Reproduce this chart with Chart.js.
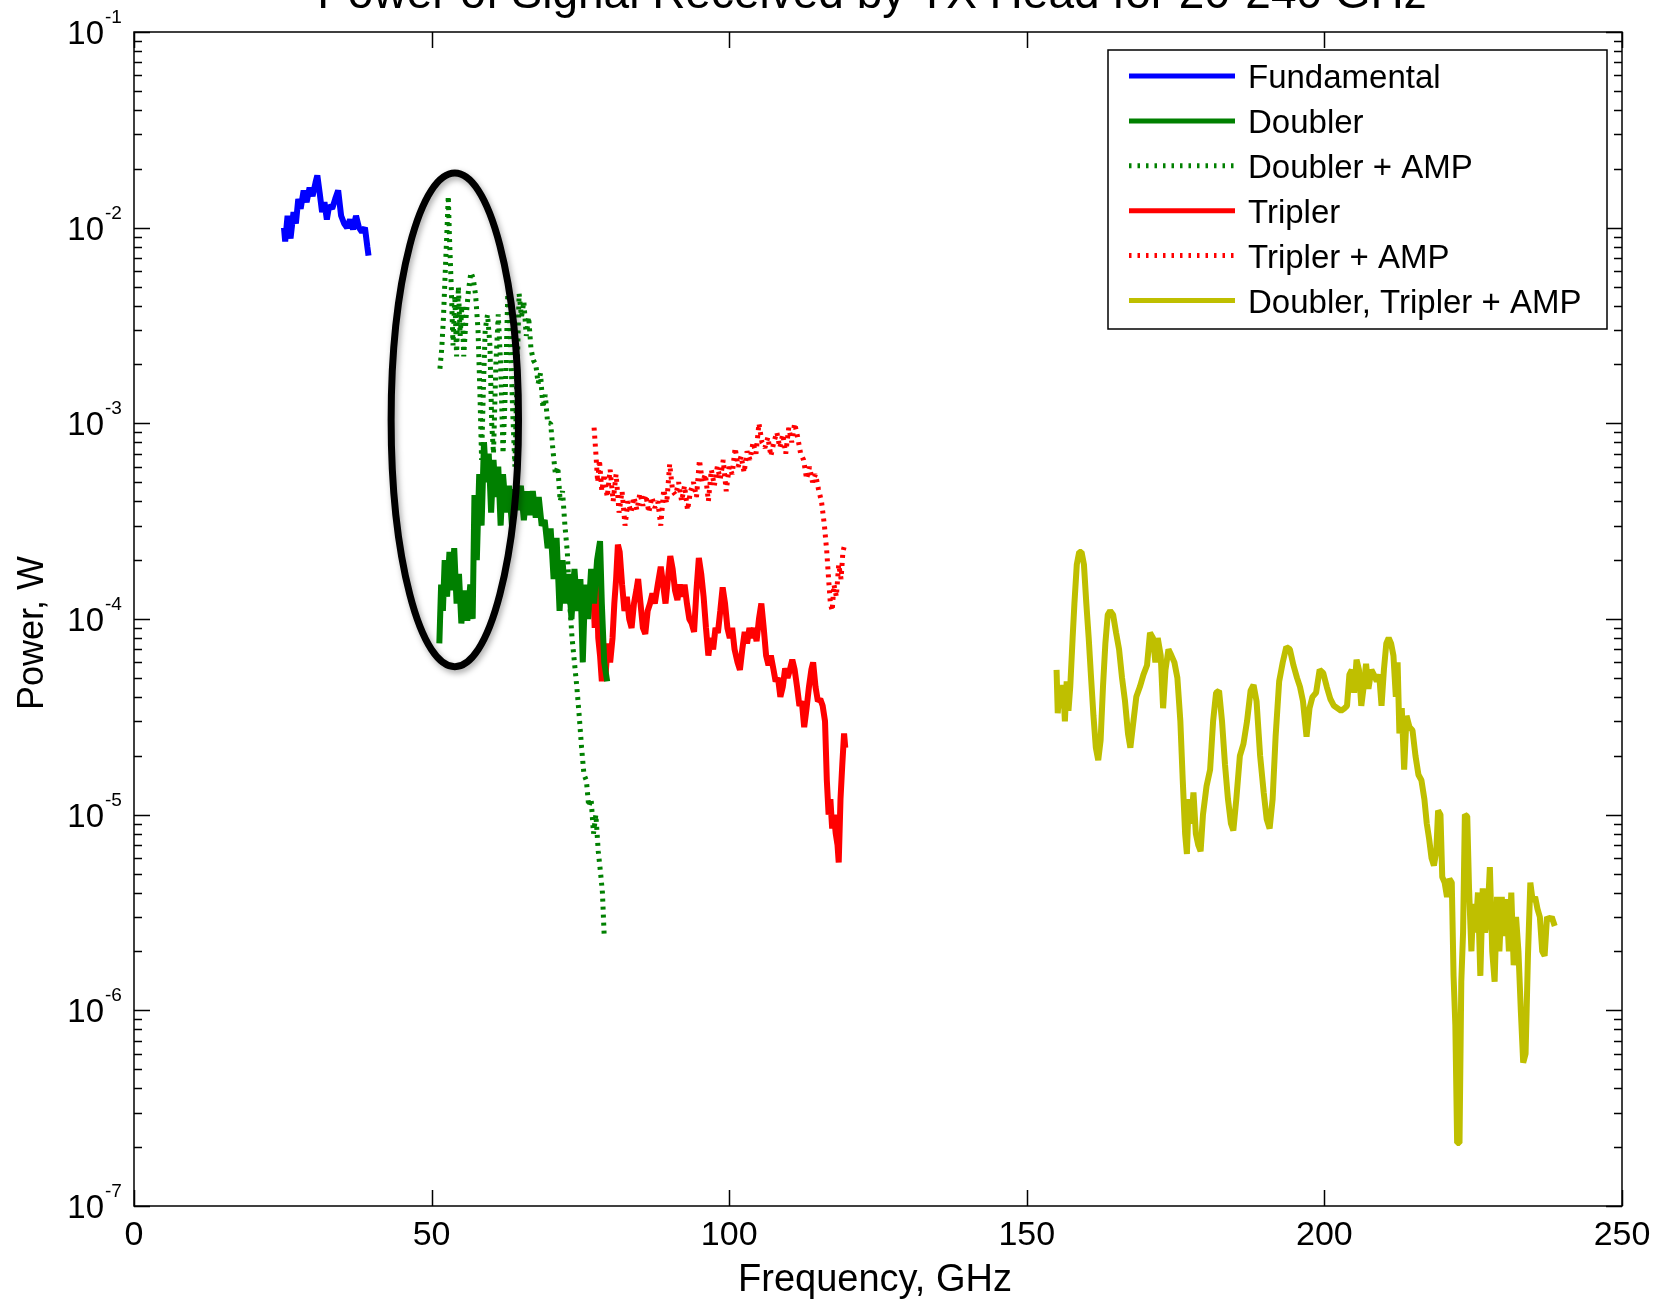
<!DOCTYPE html>
<html>
<head>
<meta charset="utf-8">
<script src="https://cdn.jsdelivr.net/npm/chart.js@4.4.1/dist/chart.umd.min.js"></script>
<style>
html,body{margin:0;padding:0;background:#fff;overflow:hidden}
canvas{display:block}
</style>
</head>
<body>
<canvas id="c" width="1671" height="1305"></canvas>
<script>
const FONT = '"Liberation Sans", Arial, sans-serif';
const chartTitle = 'Power of Signal Received by TX Head for 20-240 GHz';
const xAxisTitle = 'Frequency, GHz';
const yAxisTitle = 'Power, W';
const xTickValues = [0, 50, 100, 150, 200, 250];
const yTickExponents = [-7, -6, -5, -4, -3, -2, -1];
const seriesNames = ['Fundamental', 'Doubler', 'Doubler + AMP', 'Tripler', 'Tripler + AMP', 'Doubler, Tripler + AMP'];
const seriesColors = ['#0000ff', '#008000', '#008000', '#ff0000', '#ff0000', '#bfbf00'];
const seriesDotted = [false, false, true, false, true, false];

// [frequency GHz, power W]
const fundamental = [
[25.2,1.0e-2],[25.4,8.5e-3],[25.8,1.15e-2],[26.3,8.8e-3],[26.8,1.2e-2],[27.2,1.05e-2],[27.6,1.4e-2],[28.0,1.25e-2],
[28.5,1.55e-2],[29.0,1.35e-2],[29.5,1.6e-2],[30.0,1.45e-2],[30.5,1.7e-2],[30.8,1.85e-2],[31.2,1.5e-2],[31.6,1.2e-2],
[32.0,1.35e-2],[32.4,1.1e-2],[32.8,1.3e-2],[33.3,1.25e-2],[33.8,1.4e-2],[34.3,1.55e-2],[34.8,1.15e-2],[35.3,1.05e-2],
[35.8,1.0e-2],[36.3,1.1e-2],[36.8,9.8e-3],[37.3,1.15e-2],[37.8,1.0e-2],[38.3,9.5e-3],[38.8,1.0e-2],[39.2,8.0e-3],[39.4,7.2e-3]];

const doubler = [
[51.3,7.5e-5],[51.6,1.5e-4],[51.9,1.1e-4],[52.2,2.0e-4],[52.6,1.3e-4],[53.0,2.2e-4],[53.4,1.4e-4],[53.8,2.3e-4],
[54.2,1.2e-4],[54.6,1.7e-4],[55.0,9.5e-5],[55.5,1.4e-4],[56.0,9.8e-5],[56.5,1.5e-4],[56.9,1.0e-4],[57.2,4.3e-4],
[57.6,2.0e-4],[58.0,5.5e-4],[58.4,3.0e-4],[58.8,8.0e-4],[59.2,5.0e-4],[59.6,7.0e-4],[60.0,3.5e-4],[60.4,6.5e-4],
[60.8,4.2e-4],[61.2,6.0e-4],[61.6,3.0e-4],[62.0,5.5e-4],[62.5,3.5e-4],[63.0,4.8e-4],[63.5,3.0e-4],[64.0,4.6e-4],
[64.5,3.6e-4],[65.0,4.8e-4],[65.5,3.2e-4],[66.0,4.5e-4],[66.5,3.4e-4],[67.0,4.5e-4],[67.5,3.3e-4],[68.0,4.2e-4],
[68.5,3.0e-4],[69.0,3.2e-4],[69.5,2.3e-4],[70.0,2.9e-4],[70.5,1.6e-4],[71.0,2.6e-4],[71.5,1.1e-4],[72.0,2.0e-4],
[72.5,1.2e-4],[73.0,1.7e-4],[73.5,1.0e-4],[74.0,1.8e-4],[74.5,1.1e-4],[75.0,1.6e-4],[75.4,6.0e-5],[75.8,1.5e-4],
[76.3,1.0e-4],[76.8,1.8e-4],[77.3,1.2e-4],[77.8,2.0e-4],[78.3,2.5e-4],[78.6,1.2e-4],[79.0,6.0e-5],[79.5,4.8e-5]];

const doublerAmp = [
[51.4,1.9e-3],[51.7,2.4e-3],[52.0,3.5e-3],[52.3,6.0e-3],[52.6,1.0e-2],[52.8,1.45e-2],[53.0,9.0e-3],[53.3,5.0e-3],
[53.6,2.5e-3],[53.9,4.5e-3],[54.2,2.2e-3],[54.5,5.0e-3],[54.8,2.8e-3],[55.1,4.0e-3],[55.4,2.2e-3],[55.8,3.5e-3],
[56.2,4.8e-3],[56.6,5.9e-3],[57.0,5.5e-3],[57.4,4.5e-3],[57.8,3.0e-3],[58.1,1.5e-3],[58.4,6.5e-4],[58.7,1.5e-3],
[59.0,3.0e-3],[59.4,3.6e-3],[59.8,2.5e-3],[60.1,1.0e-3],[60.4,7.0e-4],[60.8,2.0e-3],[61.2,3.6e-3],[61.6,2.0e-3],
[62.0,7.0e-4],[62.4,1.5e-3],[62.8,4.6e-3],[63.2,3.0e-3],[63.6,1.2e-3],[64.0,6.0e-4],[64.3,1.5e-3],[64.7,4.6e-3],
[65.1,3.5e-3],[65.5,4.2e-3],[65.9,2.8e-3],[66.3,3.5e-3],[66.7,2.4e-3],[67.1,2.1e-3],[67.5,2.0e-3],[67.9,1.6e-3],
[68.3,1.8e-3],[68.7,1.2e-3],[69.1,1.4e-3],[69.5,1.0e-3],[70.0,1.0e-3],[70.4,7.2e-4],[70.8,5.5e-4],[71.2,6.0e-4],
[71.6,4.0e-4],[72.0,4.5e-4],[72.4,3.0e-4],[72.8,2.2e-4],[73.2,1.2e-4],[73.6,8.0e-5],[74.0,6.0e-5],[74.4,4.5e-5],
[74.8,3.2e-5],[75.2,2.2e-5],[75.6,1.6e-5],[76.0,1.5e-5],[76.4,1.1e-5],[76.8,1.2e-5],[77.2,8.0e-6],[77.6,1.0e-5],
[78.0,6.5e-6],[78.4,5.0e-6],[78.7,4.0e-6],[79.0,2.4e-6]];

const tripler = [
[77.1,1.6e-4],[77.4,9.0e-5],[77.7,1.7e-4],[78.0,8.0e-5],[78.3,6.5e-5],[78.6,4.8e-5],[78.9,7.0e-5],[79.2,5.0e-5],
[79.6,7.5e-5],[80.0,6.0e-5],[80.4,8.0e-5],[80.7,1.2e-4],[81.0,1.6e-4],[81.3,2.4e-4],[81.6,2.2e-4],[82.0,1.5e-4],
[82.4,1.1e-4],[82.8,1.3e-4],[83.2,1.0e-4],[83.6,9.0e-5],[84.0,1.2e-4],[84.4,1.4e-4],[84.7,1.6e-4],[85.1,1.2e-4],
[85.5,9.0e-5],[85.9,8.4e-5],[86.3,1.1e-4],[86.7,1.2e-4],[87.1,1.35e-4],[87.5,1.2e-4],[88.0,1.5e-4],[88.5,1.85e-4],
[88.9,1.5e-4],[89.3,1.2e-4],[89.7,1.6e-4],[90.1,2.1e-4],[90.5,1.8e-4],[90.9,1.4e-4],[91.3,1.25e-4],[91.7,1.5e-4],
[92.1,1.3e-4],[92.5,1.5e-4],[92.9,1.2e-4],[93.3,1.0e-4],[93.7,9.5e-5],[94.1,8.6e-5],[94.5,1.4e-4],[94.9,2.05e-4],
[95.3,1.7e-4],[95.7,1.3e-4],[96.1,9.0e-5],[96.5,6.5e-5],[96.9,8.0e-5],[97.3,7.0e-5],[97.7,9.0e-5],[98.1,8.5e-5],
[98.5,1.1e-4],[98.9,1.45e-4],[99.3,1.2e-4],[99.7,9.0e-5],[100.1,8.0e-5],[100.5,9.0e-5],[100.9,7.0e-5],[101.4,6.0e-5],
[101.8,5.5e-5],[102.2,7.0e-5],[102.6,8.6e-5],[103.0,7.5e-5],[103.4,9.0e-5],[103.8,8.0e-5],[104.2,9.0e-5],[104.6,7.7e-5],
[105.0,1.0e-4],[105.4,1.2e-4],[105.8,9.0e-5],[106.2,6.5e-5],[106.6,5.8e-5],[107.0,6.5e-5],[107.4,5.6e-5],[107.8,4.8e-5],
[108.2,5.0e-5],[108.6,4.0e-5],[109.0,4.5e-5],[109.4,5.6e-5],[109.8,5.0e-5],[110.2,5.5e-5],[110.6,6.2e-5],[111.0,5.5e-5],
[111.4,4.5e-5],[111.8,3.6e-5],[112.2,3.8e-5],[112.6,2.8e-5],[113.0,3.5e-5],[113.4,4.5e-5],[113.8,5.5e-5],[114.1,6.0e-5],
[114.5,4.5e-5],[114.9,3.8e-5],[115.3,3.9e-5],[115.7,3.6e-5],[116.1,3.0e-5],[116.4,1.5e-5],[116.7,1.0e-5],[117.0,1.2e-5],
[117.3,8.5e-6],[117.6,1.0e-5],[117.9,8.0e-6],[118.2,7.0e-6],[118.4,5.7e-6],[118.7,1.2e-5],[119.0,1.8e-5],[119.3,2.6e-5],[119.5,2.2e-5]];

const triplerAmp = [
[77.3,9.5e-4],[77.6,7.0e-4],[77.9,5.0e-4],[78.2,6.5e-4],[78.6,4.5e-4],[79.0,5.5e-4],[79.5,4.2e-4],[80.0,5.8e-4],
[80.5,4.0e-4],[81.0,5.5e-4],[81.5,3.5e-4],[82.0,4.5e-4],[82.5,3.0e-4],[83.0,4.0e-4],[83.5,3.5e-4],[84.0,4.2e-4],
[84.5,3.6e-4],[85.0,4.4e-4],[85.5,3.8e-4],[86.0,4.3e-4],[86.5,3.5e-4],[87.0,4.2e-4],[87.5,3.7e-4],[88.0,4.0e-4],
[88.5,3.0e-4],[89.0,4.6e-4],[89.5,3.9e-4],[90.0,6.2e-4],[90.5,4.5e-4],[91.0,4.3e-4],[91.5,5.0e-4],[92.0,4.0e-4],
[92.5,4.8e-4],[93.0,3.6e-4],[93.5,4.5e-4],[94.0,5.0e-4],[94.5,4.2e-4],[95.0,6.5e-4],[95.5,5.0e-4],[96.0,5.5e-4],
[96.5,4.0e-4],[97.0,5.8e-4],[97.5,4.8e-4],[98.0,6.0e-4],[98.5,5.2e-4],[99.0,6.5e-4],[99.5,4.5e-4],[100.0,6.0e-4],
[100.5,5.5e-4],[101.0,7.5e-4],[101.5,6.0e-4],[102.0,6.8e-4],[102.5,5.6e-4],[103.0,7.2e-4],[103.5,6.5e-4],[104.0,8.0e-4],
[104.5,7.0e-4],[105.0,1.0e-3],[105.5,8.0e-4],[106.0,7.5e-4],[106.5,8.5e-4],[107.0,6.8e-4],[107.5,8.0e-4],[108.0,9.0e-4],
[108.5,7.5e-4],[109.0,8.8e-4],[109.5,7.0e-4],[110.0,9.5e-4],[110.5,8.0e-4],[111.0,1.0e-3],[111.5,8.5e-4],[112.0,7.0e-4],
[112.5,6.5e-4],[113.0,5.2e-4],[113.5,6.0e-4],[114.0,5.0e-4],[114.5,5.5e-4],[115.0,4.6e-4],[115.5,4.0e-4],[116.0,3.0e-4],
[116.4,2.2e-4],[116.7,1.6e-4],[117.0,1.2e-4],[117.3,1.1e-4],[117.6,1.5e-4],[118.0,1.3e-4],[118.4,1.9e-4],[118.8,1.6e-4],
[119.1,2.2e-4],[119.4,2.4e-4]];

const doublerTriplerAmp = [
[155.0,5.5e-5],[155.2,3.3e-5],[155.5,4.5e-5],[155.8,3.5e-5],[156.1,4.6e-5],[156.4,3.0e-5],[156.7,4.8e-5],[157.0,3.4e-5],
[157.3,4.5e-5],[157.7,8.0e-5],[158.0,1.2e-4],[158.4,1.9e-4],[158.8,2.2e-4],[159.2,2.2e-4],[159.6,1.9e-4],[160.0,1.2e-4],
[160.4,8.0e-5],[160.8,5.0e-5],[161.2,3.2e-5],[161.6,2.2e-5],[162.0,1.9e-5],[162.4,2.4e-5],[162.8,4.5e-5],[163.2,7.5e-5],
[163.6,1.05e-4],[164.0,1.1e-4],[164.5,1.05e-4],[165.0,8.5e-5],[165.5,7.0e-5],[166.0,5.0e-5],[166.5,3.8e-5],[167.0,2.6e-5],
[167.4,2.2e-5],[167.8,2.8e-5],[168.4,4.0e-5],[169.0,4.5e-5],[169.6,5.2e-5],[170.2,5.8e-5],[170.7,8.5e-5],[171.2,8.0e-5],
[171.6,6.0e-5],[172.0,8.0e-5],[172.5,6.5e-5],[172.9,3.5e-5],[173.3,5.5e-5],[173.8,7.0e-5],[174.3,6.5e-5],[174.8,6.0e-5],
[175.3,5.0e-5],[175.8,3.0e-5],[176.2,1.5e-5],[176.6,8.0e-6],[176.9,6.3e-6],[177.2,1.2e-5],[177.6,9.0e-6],[178.0,1.3e-5],
[178.4,8.0e-6],[178.8,7.0e-6],[179.2,6.5e-6],[179.6,1.0e-5],[180.2,1.4e-5],[180.8,1.7e-5],[181.3,3.0e-5],[181.8,4.2e-5],
[182.3,4.3e-5],[182.8,3.0e-5],[183.3,1.8e-5],[183.8,1.2e-5],[184.3,9.0e-6],[184.7,8.3e-6],[185.2,1.2e-5],[185.8,2.0e-5],
[186.4,2.3e-5],[187.0,3.0e-5],[187.6,4.3e-5],[188.1,4.6e-5],[188.6,3.8e-5],[189.2,2.0e-5],[189.8,1.3e-5],[190.3,9.5e-6],
[190.8,8.5e-6],[191.3,1.2e-5],[191.8,2.5e-5],[192.4,4.8e-5],[193.0,6.0e-5],[193.6,7.2e-5],[194.2,7.0e-5],[194.8,5.8e-5],
[195.4,5.0e-5],[195.9,4.5e-5],[196.4,3.8e-5],[197.0,2.5e-5],[197.5,3.5e-5],[198.0,4.0e-5],[198.6,4.2e-5],[199.2,5.5e-5],
[199.8,5.3e-5],[200.4,4.5e-5],[201.0,3.9e-5],[201.6,3.6e-5],[202.2,3.5e-5],[202.8,3.4e-5],[203.4,3.5e-5],[203.8,3.6e-5],
[204.2,5.2e-5],[204.6,5.5e-5],[205.0,4.2e-5],[205.4,6.2e-5],[205.8,5.5e-5],[206.2,3.6e-5],[206.6,4.5e-5],[207.0,5.9e-5],
[207.4,4.4e-5],[207.9,5.5e-5],[208.3,5.2e-5],[208.8,4.8e-5],[209.2,5.2e-5],[209.6,3.6e-5],[210.0,5.5e-5],[210.4,7.5e-5],
[210.8,8.0e-5],[211.2,7.5e-5],[211.6,6.5e-5],[212.0,4.0e-5],[212.3,6.0e-5],[212.6,2.6e-5],[213.0,3.5e-5],[213.4,1.7e-5],
[213.8,3.2e-5],[214.3,2.8e-5],[214.8,2.7e-5],[215.3,2.0e-5],[215.8,1.6e-5],[216.3,1.5e-5],[216.8,1.2e-5],[217.2,9.0e-6],
[217.6,7.5e-6],[218.0,6.0e-6],[218.4,5.5e-6],[218.8,6.5e-6],[219.1,1.05e-5],[219.5,1.0e-5],[219.8,4.8e-6],[220.2,4.5e-6],
[220.6,3.8e-6],[221.0,4.7e-6],[221.4,4.5e-6],[221.7,1.5e-6],[222.0,8.4e-7],[222.3,2.1e-7],[222.7,2.1e-7],[223.0,1.4e-6],
[223.3,2.5e-6],[223.6,1.0e-5],[224.0,9.8e-6],[224.3,4.2e-6],[224.7,2.0e-6],[225.0,3.5e-6],[225.4,2.5e-6],[225.8,4.0e-6],
[226.2,1.5e-6],[226.6,4.2e-6],[227.0,2.5e-6],[227.4,3.0e-6],[227.8,5.4e-6],[228.2,2.0e-6],[228.6,1.4e-6],[229.0,3.8e-6],
[229.4,2.0e-6],[229.8,3.8e-6],[230.2,2.4e-6],[230.6,3.7e-6],[231.0,2.0e-6],[231.4,4.0e-6],[231.8,1.7e-6],[232.2,3.0e-6],
[232.6,2.0e-6],[233.0,1.0e-6],[233.4,5.4e-7],[233.8,6.0e-7],[234.2,1.9e-6],[234.6,4.5e-6],[235.0,3.6e-6],[235.4,3.8e-6],
[235.8,3.3e-6],[236.2,3.0e-6],[236.6,2.0e-6],[237.0,1.9e-6],[237.4,3.0e-6],[237.8,2.9e-6],[238.2,3.0e-6],[238.7,2.7e-6]];

// highlighted region (ellipse) in data units
const ellipseFreq = [43.2, 64.6];
const ellipsePower = [5.7e-5, 1.9e-2];

const seriesData = [fundamental, doubler, doublerAmp, tripler, triplerAmp, doublerTriplerAmp];

const datasets = seriesData.map((pts, i) => ({
  label: seriesNames[i],
  data: pts.map(p => ({x: p[0], y: p[1]})),
  borderColor: seriesColors[i],
  backgroundColor: seriesColors[i],
  borderWidth: seriesDotted[i] ? 5 : 6,
  borderDash: seriesDotted[i] ? [3, 5] : [],
  borderCapStyle: 'butt',
  borderJoinStyle: 'bevel',
  pointRadius: 0,
  tension: 0,
  fill: false
}));

const decor = {
  id: 'decor',
  afterDraw(chart) {
    const ctx = chart.ctx, a = chart.chartArea, x = chart.scales.x, y = chart.scales.y;
    ctx.save();
    // ellipse annotation
    const ex1 = x.getPixelForValue(ellipseFreq[0]), ex2 = x.getPixelForValue(ellipseFreq[1]);
    const ey1 = y.getPixelForValue(ellipsePower[1]), ey2 = y.getPixelForValue(ellipsePower[0]);
    ctx.save();
    ctx.shadowColor = 'rgba(0,0,0,0.35)';
    ctx.shadowBlur = 6; ctx.shadowOffsetX = 2; ctx.shadowOffsetY = 3;
    ctx.beginPath();
    ctx.ellipse((ex1 + ex2) / 2, (ey1 + ey2) / 2, (ex2 - ex1) / 2, (ey2 - ey1) / 2, 0, 0, Math.PI * 2);
    ctx.lineWidth = 7; ctx.strokeStyle = '#000'; ctx.stroke();
    ctx.restore();

    // axes box and ticks
    ctx.strokeStyle = '#000'; ctx.lineWidth = 1.5;
    ctx.strokeRect(a.left, a.top, a.right - a.left, a.bottom - a.top);
    ctx.beginPath();
    xTickValues.forEach(v => {
      const px = Math.round(x.getPixelForValue(v)) + 0.5;
      ctx.moveTo(px, a.bottom); ctx.lineTo(px, a.bottom - 16);
      ctx.moveTo(px, a.top); ctx.lineTo(px, a.top + 16);
    });
    yTickExponents.forEach(e => {
      const py = Math.round(y.getPixelForValue(Math.pow(10, e))) + 0.5;
      ctx.moveTo(a.left, py); ctx.lineTo(a.left + 16, py);
      ctx.moveTo(a.right, py); ctx.lineTo(a.right - 16, py);
      if (e < -1) {
        for (let m = 2; m <= 9; m++) {
          const q = Math.round(y.getPixelForValue(m * Math.pow(10, e))) + 0.5;
          ctx.moveTo(a.left, q); ctx.lineTo(a.left + 8, q);
          ctx.moveTo(a.right, q); ctx.lineTo(a.right - 8, q);
        }
      }
    });
    ctx.stroke();

    // y tick labels 10^n
    ctx.fillStyle = '#000';
    ctx.textBaseline = 'alphabetic';
    yTickExponents.forEach(e => {
      const py = y.getPixelForValue(Math.pow(10, e));
      ctx.font = '33px ' + FONT;
      ctx.textAlign = 'right';
      ctx.fillText('10', a.left - 30, py + 12);
      ctx.font = '19px ' + FONT;
      ctx.textAlign = 'left';
      ctx.fillText(String(e), a.left - 29, py - 9);
    });

    // axis titles
    ctx.font = '38px ' + FONT;
    ctx.textAlign = 'center';
    ctx.fillText(xAxisTitle, (a.left + a.right) / 2 - 3, 1291);
    ctx.save();
    ctx.translate(43, 633);
    ctx.rotate(-Math.PI / 2);
    ctx.font = '36px ' + FONT;
    ctx.fillText(yAxisTitle, 0, 0);
    ctx.restore();

    // chart title (partly above the canvas, as in the reference)
    ctx.font = '46px ' + FONT;
    ctx.fillText(chartTitle, (a.left + a.right) / 2 - 6, 8);

    // legend
    const lx = a.right - 514, ly = a.top + 18, lw = 499, lh = 279;
    ctx.fillStyle = '#fff';
    ctx.fillRect(lx, ly, lw, lh);
    ctx.lineWidth = 1.5; ctx.strokeStyle = '#000';
    ctx.strokeRect(lx, ly, lw, lh);
    chart.data.datasets.forEach((ds, i) => {
      const ry = ly + 26 + i * 44.9;
      ctx.beginPath();
      ctx.setLineDash(seriesDotted[i] ? [2.5, 6] : []);
      ctx.lineWidth = 5;
      ctx.lineCap = 'butt';
      ctx.strokeStyle = ds.borderColor;
      ctx.moveTo(lx + 21, ry); ctx.lineTo(lx + 127, ry);
      ctx.stroke();
      ctx.setLineDash([]);
      ctx.fillStyle = '#000';
      ctx.font = '33px ' + FONT;
      ctx.textAlign = 'left';
      ctx.fillText(ds.label, lx + 140, ry + 12);
    });
    ctx.restore();
  }
};

new Chart(document.getElementById('c'), {
  type: 'line',
  data: { datasets },
  options: {
    responsive: false,
    animation: false,
    events: [],
    devicePixelRatio: 1,
    layout: { padding: { top: 32, right: 49, left: 0, bottom: 0 } },
    plugins: { legend: { display: false }, tooltip: { enabled: false }, title: { display: false } },
    scales: {
      x: {
        type: 'linear', min: 0, max: 250,
        grid: { display: false, drawTicks: false },
        border: { display: false },
        ticks: { stepSize: 50, color: '#000', font: { family: FONT, size: 34 }, padding: 9, maxRotation: 0, autoSkip: false },
        afterBuildTicks: s => { s.ticks = xTickValues.map(v => ({ value: v })); },
        afterFit: s => { s.height = 99; }
      },
      y: {
        type: 'logarithmic', min: 1e-7, max: 1e-1,
        grid: { display: false, drawTicks: false },
        border: { display: false },
        ticks: { display: false },
        afterBuildTicks: s => { s.ticks = yTickExponents.map(e => ({ value: Math.pow(10, e) })); },
        afterFit: s => { s.width = 134; }
      }
    }
  },
  plugins: [decor]
});
</script>
</body>
</html>
